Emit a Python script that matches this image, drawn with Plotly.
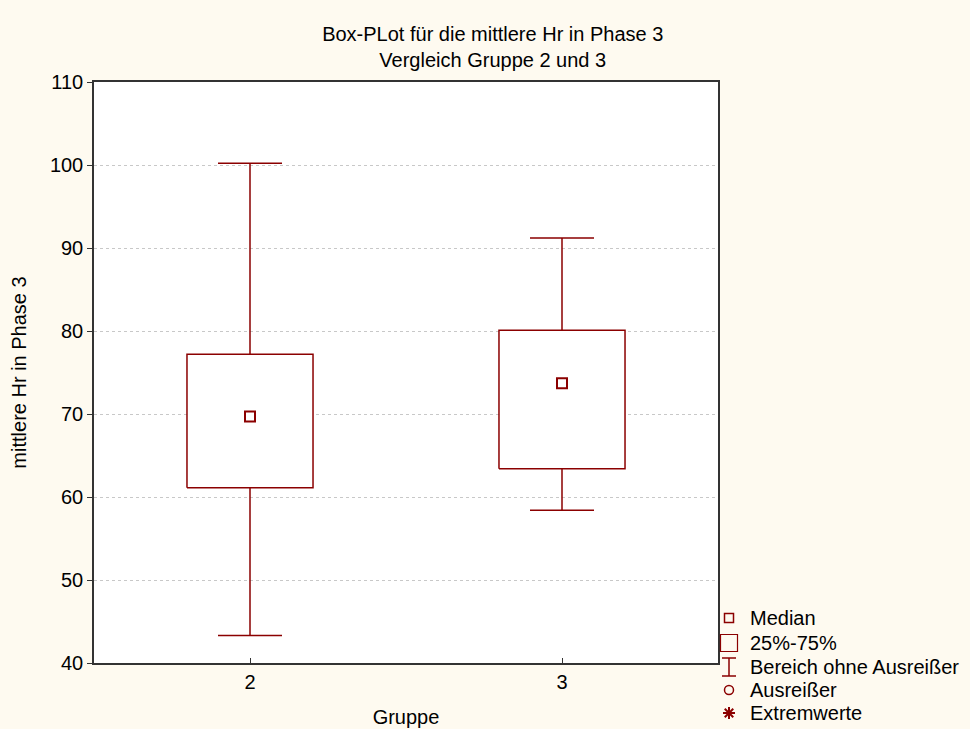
import plotly.graph_objects as go

groups = [2, 3]
lower_fence = [43.3, 58.4]
q1 = [61.1, 63.4]
median = [69.7, 73.7]
q3 = [77.2, 80.1]
upper_fence = [100.2, 91.2]

y_ticks = [40, 50, 60, 70, 80, 90, 100, 110]

legend_labels = ["Median", "25%-75%", "Bereich ohne Ausreißer", "Ausreißer", "Extremwerte"]

RED = "#8B0000"
AX = "#333333"
BG = "#FEFAF0"
BOX_HALF = 0.202
FONT = "Arial, Liberation Sans, sans-serif"
FS = 20

W, H = 970, 729
ML, MT = 94, 82
PW, PH = W - ML, H - MT           # paper size (r=0, b=0 margins)
PLOT_R, PLOT_B = 718, 663         # plot frame right / bottom in px
LEG_L, LEG_T = 722, 600           # legend box top-left in px

fig = go.Figure()

# whiskers (drawn first so the white box hides the inner part)
fig.add_trace(go.Scatter(
    x=groups, y=median, mode="markers",
    marker=dict(size=1, color="rgba(0,0,0,0)"),
    error_y=dict(type="data", symmetric=False,
                 array=[u - m for u, m in zip(upper_fence, median)],
                 arrayminus=[m - l for m, l in zip(median, lower_fence)],
                 color=RED, thickness=1.5, width=32),
    showlegend=False, hoverinfo="skip"))

# boxes
for g, a, b in zip(groups, q1, q3):
    fig.add_trace(go.Scatter(
        x=[g - BOX_HALF, g + BOX_HALF, g + BOX_HALF, g - BOX_HALF, g - BOX_HALF],
        y=[a, a, b, b, a], mode="lines", fill="toself", fillcolor="white",
        line=dict(color=RED, width=1.5), showlegend=False, hoverinfo="skip"))

# medians
fig.add_trace(go.Scatter(
    x=groups, y=median, mode="markers",
    marker=dict(symbol="square-open", size=10, color=RED, line=dict(width=2)),
    showlegend=False, hoverinfo="skip"))

# ---- manual legend on a helper axis (units = pixels inside legend box) ----
row_y = [18, 43, 67, 90, 113]
sym_x = 7
leg_kw = dict(xaxis="x2", yaxis="y2", showlegend=False, hoverinfo="skip", cliponaxis=False)
fig.add_trace(go.Scatter(x=[sym_x], y=[row_y[0]], mode="markers",
                         marker=dict(symbol="square-open", size=9, color=RED, line=dict(width=1.5)), **leg_kw))
fig.add_trace(go.Scatter(x=[sym_x], y=[row_y[1]], mode="markers",
                         marker=dict(symbol="square-open", size=17, color=RED, line=dict(width=1.2)), **leg_kw))
fig.add_trace(go.Scatter(x=[sym_x], y=[row_y[2]], mode="markers",
                         marker=dict(size=1, color="rgba(0,0,0,0)"),
                         error_y=dict(type="data", array=[9], color=RED, thickness=1.5, width=7), **leg_kw))
fig.add_trace(go.Scatter(x=[sym_x], y=[row_y[3]], mode="markers",
                         marker=dict(symbol="circle-open", size=9, color=RED, line=dict(width=1.5)), **leg_kw))
fig.add_trace(go.Scatter(x=[sym_x], y=[row_y[4]], mode="markers",
                         marker=dict(symbol="asterisk-open", size=10, color=RED, line=dict(width=2)), **leg_kw))

annotations = [dict(x=26, y=yy, xref="x2", yref="y2", text=t, showarrow=False,
                    xanchor="left", yanchor="middle", font=dict(size=FS, color="black"))
               for t, yy in zip(legend_labels, row_y)]

shapes = [dict(type="rect", xref="x domain", yref="y domain", x0=0, x1=1, y0=0, y1=1,
               fillcolor="white", line=dict(width=0), layer="below")]

fig.update_layout(
    width=W, height=H,
    margin=dict(l=ML, r=0, t=MT, b=0, pad=0),
    paper_bgcolor=BG, plot_bgcolor=BG,
    font=dict(family=FONT, size=FS, color="black"),
    title=dict(text="Box-PLot für die mittlere Hr in Phase 3<br>Vergleich Gruppe 2 und 3",
               x=0.508, xanchor="center", y=0.944, yanchor="top",
               font=dict(size=FS)),
    showlegend=False,
    annotations=annotations,
    shapes=shapes,
    xaxis=dict(domain=[0, (PLOT_R - ML) / PW],
               range=[1.5, 3.5], tickvals=groups, ticktext=[str(g) for g in groups],
               ticks="inside", ticklen=5, tickcolor=AX, tickfont=dict(size=FS),
               showline=True, linecolor=AX, linewidth=1.5, mirror=True,
               showgrid=False, zeroline=False, automargin=False,
               title=dict(text="Gruppe", standoff=18, font=dict(size=FS))),
    yaxis=dict(domain=[(H - PLOT_B) / PH, 1],
               range=[40, 110], tickvals=y_ticks,
               ticks="outside", ticklen=5, tickcolor=AX, tickfont=dict(size=FS),
               showline=True, linecolor=AX, linewidth=1.5, mirror=True,
               showgrid=True, gridcolor="#C8C8C8", griddash="dot", gridwidth=1,
               zeroline=False, automargin=False,
               title=dict(text="mittlere Hr in Phase 3", standoff=18, font=dict(size=FS))),
    xaxis2=dict(domain=[(LEG_L - ML) / PW, 1], range=[0, W - LEG_L],
                visible=False, fixedrange=True, anchor="y2"),
    yaxis2=dict(domain=[0, (H - LEG_T) / PH], range=[H - LEG_T, 0],
                visible=False, fixedrange=True, anchor="x2"),
)

fig.write_html("out.html")
